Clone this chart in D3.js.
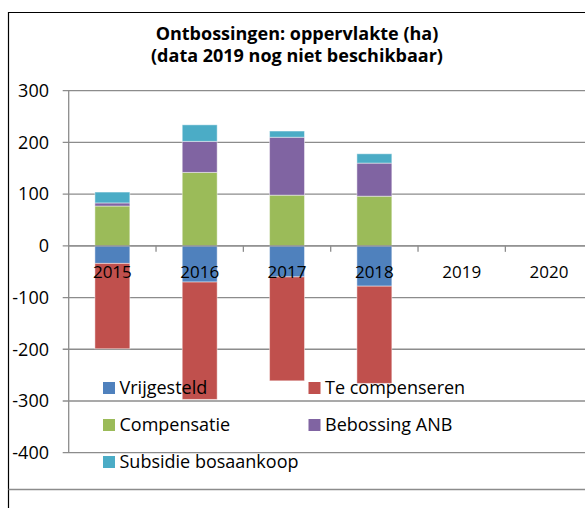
<!DOCTYPE html>
<html>
<head>
<meta charset="utf-8">
<script src="https://cdn.jsdelivr.net/npm/d3@7"></script>
<style>
  html, body { margin: 0; padding: 0; background: #fff; }
  svg { display: block; font-family: "Open Sans", "Noto Sans", sans-serif; }
</style>
</head>
<body>
<div id="chart"></div>
<script>
// data (ha)
const years = ['2015', '2016', '2017', '2018', '2019', '2020'];
const seriesNames = ['Vrijgesteld', 'Te compenseren', 'Compensatie', 'Bebossing ANB', 'Subsidie bosaankoop'];
const vrijgesteld = [-34, -70, -60, -78, 0, 0];
const teCompenseren = [-165, -227, -201, -188, 0, 0];
const compensatie = [77, 142, 98, 96, 0, 0];
const bebossingAnb = [6, 60, 112, 64, 0, 0];
const subsidie = [21, 32, 12, 18, 0, 0];
const yTicks = [300, 200, 100, 0, -100, -200, -300, -400];
const titleLines = ['Ontbossingen: oppervlakte (ha)', '(data 2019 nog niet beschikbaar)'];

const colors = ['#4F81BD', '#C0504D', '#9BBB59', '#8064A2', '#4BACC6'];

const fullWidth = 585;
const fullHeight = 508;

// plot area
const plot = { left: 68.7, right: 592.7, top: 90.7, bottom: 452.7 };

const svg = d3.select('#chart').append('svg')
  .attr('width', fullWidth)
  .attr('height', fullHeight);

// build rows for stacking
const allValues = [vrijgesteld, teCompenseren, compensatie, bebossingAnb, subsidie];
const rows = years.map((yr, i) => {
  const row = { year: yr };
  seriesNames.forEach((s, j) => { row[s] = allValues[j][i]; });
  return row;
});

const stacked = d3.stack()
  .keys(seriesNames)
  .offset(d3.stackOffsetDiverging)(rows);

const x = d3.scaleBand()
  .domain(years)
  .range([plot.left, plot.right])
  .paddingInner(0.6)
  .paddingOuter(0.3);

const xCat = d3.scaleBand().domain(years).range([plot.left, plot.right]).padding(0);

const y = d3.scaleLinear().domain([-400, 300]).range([plot.bottom, plot.top]);

const color = d3.scaleOrdinal().domain(seriesNames).range(colors);

// outer frame
svg.append('path')
  .attr('d', `M8.5,${fullHeight} V12.5 H${fullWidth}`)
  .attr('fill', 'none')
  .attr('stroke', '#000')
  .attr('stroke-width', 1.2);

svg.append('line')
  .attr('x1', 8.5).attr('x2', fullWidth)
  .attr('y1', 489.5).attr('y2', 489.5)
  .attr('stroke', '#8c8c8c')
  .attr('stroke-width', 1.3);

// title
svg.append('text')
  .attr('x', 297)
  .attr('font-size', 18)
  .attr('font-weight', 'bold')
  .attr('text-anchor', 'middle')
  .attr('fill', '#000')
  .selectAll('tspan')
  .data(titleLines)
  .join('tspan')
  .attr('x', 297)
  .attr('y', (d, i) => 40 + i * 22)
  .text(d => d);

// gridlines + y ticks
svg.append('g')
  .selectAll('line')
  .data(yTicks)
  .join('line')
  .attr('x1', plot.left - 6)
  .attr('x2', fullWidth)
  .attr('y1', d => y(d))
  .attr('y2', d => y(d))
  .attr('stroke', '#8c8c8c')
  .attr('stroke-width', 1.3);

// y axis line
svg.append('line')
  .attr('x1', plot.left).attr('x2', plot.left)
  .attr('y1', y(300)).attr('y2', y(-400))
  .attr('stroke', '#8c8c8c')
  .attr('stroke-width', 1.3);

svg.append('g')
  .selectAll('text')
  .data(yTicks)
  .join('text')
  .attr('x', 49)
  .attr('y', d => y(d))
  .attr('dy', '0.35em')
  .attr('text-anchor', 'end')
  .attr('font-size', 18)
  .attr('fill', '#000')
  .text(d => d);

// bars
svg.append('g')
  .selectAll('g')
  .data(stacked)
  .join('g')
  .attr('fill', d => color(d.key))
  .selectAll('rect')
  .data(d => d)
  .join('rect')
  .attr('x', d => x(d.data.year))
  .attr('width', x.bandwidth())
  .attr('y', d => y(Math.max(d[0], d[1])))
  .attr('height', d => Math.abs(y(d[0]) - y(d[1])))
  .attr('stroke', '#fff')
  .attr('stroke-opacity', 0.45)
  .attr('stroke-width', 1);

// category axis at zero
svg.append('line')
  .attr('x1', plot.left).attr('x2', fullWidth)
  .attr('y1', y(0)).attr('y2', y(0))
  .attr('stroke', '#8c8c8c')
  .attr('stroke-width', 1.3);

svg.append('g')
  .selectAll('line')
  .data(years.slice(1))
  .join('line')
  .attr('x1', d => xCat(d))
  .attr('x2', d => xCat(d))
  .attr('y1', y(0))
  .attr('y2', y(0) + 6)
  .attr('stroke', '#8c8c8c')
  .attr('stroke-width', 1.3);

svg.append('g')
  .selectAll('text')
  .data(years)
  .join('text')
  .attr('x', d => xCat(d) + xCat.bandwidth() / 2)
  .attr('y', 278)
  .attr('text-anchor', 'middle')
  .attr('font-size', 17)
  .attr('fill', '#000')
  .text(d => d);

// legend, two columns drawn over the plot
const legend = svg.append('g');
const legendItems = legend.selectAll('g')
  .data(seriesNames)
  .join('g')
  .attr('transform', (d, i) => `translate(${i % 2 === 0 ? 103 : 308.5},${382 + Math.floor(i / 2) * 37})`);

legendItems.append('rect')
  .attr('width', 12)
  .attr('height', 12)
  .attr('fill', d => color(d));

legendItems.append('text')
  .attr('x', 16.5)
  .attr('y', 12)
  .attr('font-size', 18)
  .attr('fill', '#000')
  .text(d => d);
</script>
</body>
</html>
